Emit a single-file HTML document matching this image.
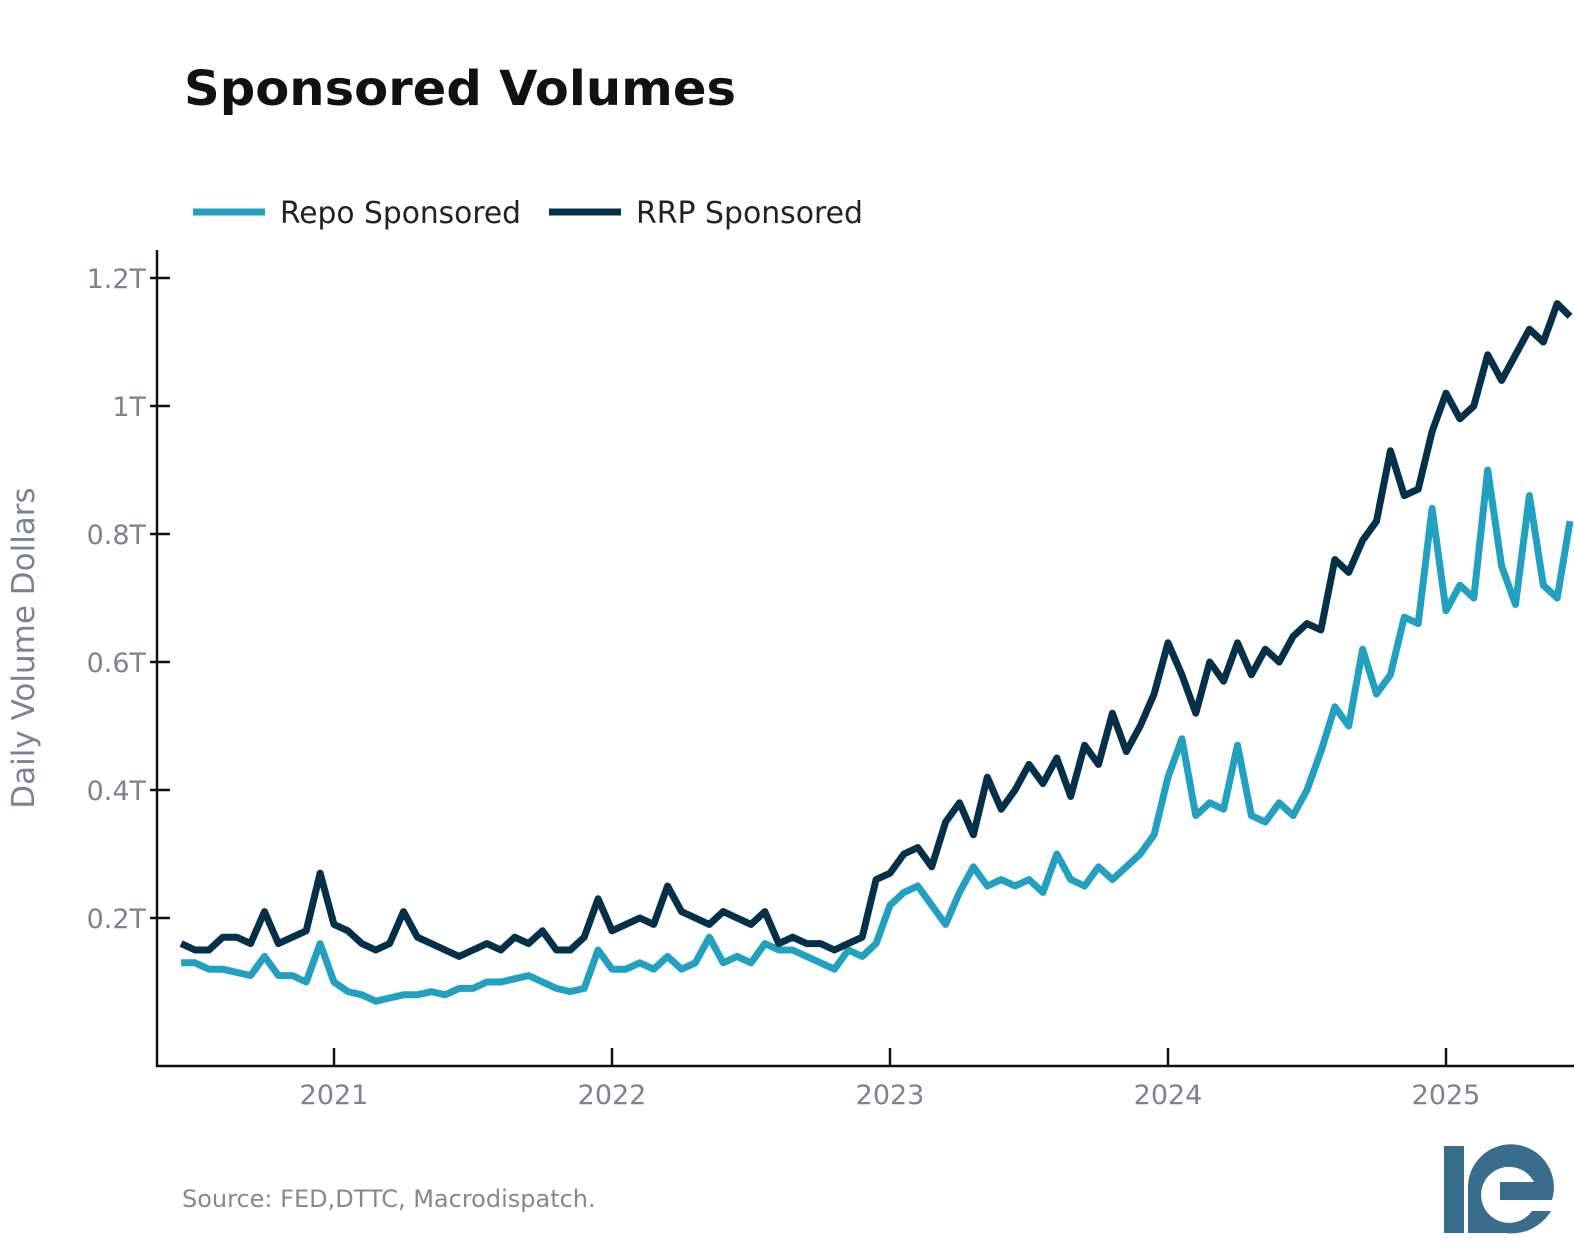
<!DOCTYPE html>
<html><head><meta charset="utf-8"><style>
body{margin:0;background:#fff;width:1574px;height:1250px;overflow:hidden;font-family:"Liberation Sans","DejaVu Sans",sans-serif}
svg{position:absolute;left:0;top:0}
</style></head><body>
<svg width="1574" height="1250">
<text x="184" y="105" font-size="48" font-weight="bold" fill="#111" font-family="DejaVu Sans, sans-serif" textLength="552" lengthAdjust="spacingAndGlyphs">Sponsored Volumes</text>
<g>
<line x1="193" y1="212" x2="265" y2="212" stroke="#22a0bf" stroke-width="7"/>
<text x="280" y="223" font-size="30" fill="#222" font-family="DejaVu Sans, sans-serif" textLength="241" lengthAdjust="spacingAndGlyphs">Repo Sponsored</text>
<line x1="549" y1="212" x2="621" y2="212" stroke="#053049" stroke-width="7"/>
<text x="636" y="223" font-size="30" fill="#222" font-family="DejaVu Sans, sans-serif" textLength="227" lengthAdjust="spacingAndGlyphs">RRP Sponsored</text>
</g>
<text transform="translate(34,648) rotate(-90)" text-anchor="middle" font-size="31" fill="#7c8196" font-family="DejaVu Sans, sans-serif">Daily Volume Dollars</text>
<g id="axes"></g>
<g id="series"></g>
<text x="182" y="1207" font-size="24" fill="#888" font-family="DejaVu Sans, sans-serif">Source: FED,DTTC, Macrodispatch.</text>
<g fill="#386d8b">
<rect x="1444" y="1146" width="20" height="87"/>
<path d="M1468 1233 L1468 1190 A43 43 0 1 1 1552 1200 L1500 1200 L1500 1182 L1534 1182 A28 28 0 1 0 1532 1211 L1551 1211 A46 46 0 0 1 1505 1233 Z"/>
</g>
</svg>
<script>
const startYear = 2020.45;
const stepYear = 0.05;
const rrpValues = [0.16,0.15,0.15,0.17,0.17,0.16,0.21,0.16,0.17,0.18,
0.27,0.19,0.18,0.16,0.15,0.16,0.21,0.17,0.16,0.15,
0.14,0.15,0.16,0.15,0.17,0.16,0.18,0.15,0.15,0.17,
0.23,0.18,0.19,0.20,0.19,0.25,0.21,0.20,0.19,0.21,
0.20,0.19,0.21,0.16,0.17,0.16,0.16,0.15,0.16,0.17,
0.26,0.27,0.30,0.31,0.28,0.35,0.38,0.33,0.42,0.37,
0.40,0.44,0.41,0.45,0.39,0.47,0.44,0.52,0.46,0.50,
0.55,0.63,0.58,0.52,0.60,0.57,0.63,0.58,0.62,0.60,
0.64,0.66,0.65,0.76,0.74,0.79,0.82,0.93,0.86,0.87,
0.96,1.02,0.98,1.00,1.08,1.04,1.08,1.12,1.10,1.16,1.14];
const repoValues = [0.13,0.13,0.12,0.12,0.115,0.11,0.14,0.11,0.11,0.10,
0.16,0.10,0.085,0.08,0.07,0.075,0.08,0.08,0.085,0.08,
0.09,0.09,0.10,0.10,0.105,0.11,0.10,0.09,0.085,0.09,
0.15,0.12,0.12,0.13,0.12,0.14,0.12,0.13,0.17,0.13,
0.14,0.13,0.16,0.15,0.15,0.14,0.13,0.12,0.15,0.14,
0.16,0.22,0.24,0.25,0.22,0.19,0.24,0.28,0.25,0.26,
0.25,0.26,0.24,0.30,0.26,0.25,0.28,0.26,0.28,0.30,
0.33,0.42,0.48,0.36,0.38,0.37,0.47,0.36,0.35,0.38,
0.36,0.40,0.46,0.53,0.50,0.62,0.55,0.58,0.67,0.66,
0.84,0.68,0.72,0.70,0.90,0.75,0.69,0.86,0.72,0.70,0.82];
const yTicks = [0.2,0.4,0.6,0.8,1.0,1.2];
const yTickLabels = ["0.2T","0.4T","0.6T","0.8T","1T","1.2T"];
const xTicks = [2021,2022,2023,2024,2025];
const xTickLabels = ["2021","2022","2023","2024","2025"];

const NS = "http://www.w3.org/2000/svg";
function xScale(yr){return 334 + (yr-2021)*278;}
function yScale(v){return 1046 - v*640;}
function mk(tag, attrs, parent){const e=document.createElementNS(NS,tag);for(const k in attrs)e.setAttribute(k,attrs[k]);parent.appendChild(e);return e;}
const axes=document.getElementById('axes');
const series=document.getElementById('series');
const yAxis = mk('line',{x1:157,y1:250,x2:157,y2:1067,stroke:'#111','stroke-width':2.5},axes);


const xAxis = mk('line',{x1:156,y1:1066,x2:1574,y2:1066,stroke:'#111','stroke-width':2.5},axes);


yTicks.forEach((v,i)=>{
  const y=yScale(v);
  const t=mk('line',{x1:150,y1:y,x2:170,y2:y,stroke:'#111','stroke-width':2.5},axes);
  
  
  const l=mk('text',{x:146,y:y+10,'text-anchor':'end','font-size':27,fill:'#7c8196','font-family':'DejaVu Sans, sans-serif'},axes);
  l.textContent=yTickLabels[i];
  
  
});
xTicks.forEach((v,i)=>{
  const x=xScale(v);
  const t=mk('line',{x1:x,y1:1048,x2:x,y2:1066,stroke:'#111','stroke-width':2.5},axes);
  
  
  const l=mk('text',{x:x,y:1104,'text-anchor':'middle','font-size':27,fill:'#7c8196','font-family':'DejaVu Sans, sans-serif'},axes);
  l.textContent=xTickLabels[i];
  
  
});
function pts(vals){return vals.map((v,i)=>{let x=xScale(startYear+i*stepYear);if(x>1570)x=1570;return x.toFixed(1)+','+yScale(v).toFixed(1);}).join(' ');}
const repo=mk('polyline',{points:pts(repoValues),fill:'none',stroke:'#22a0bf','stroke-width':7,'stroke-linejoin':'round'},series);


const rrp=mk('polyline',{points:pts(rrpValues),fill:'none',stroke:'#053049','stroke-width':7,'stroke-linejoin':'round'},series);


</script>
</body></html>
